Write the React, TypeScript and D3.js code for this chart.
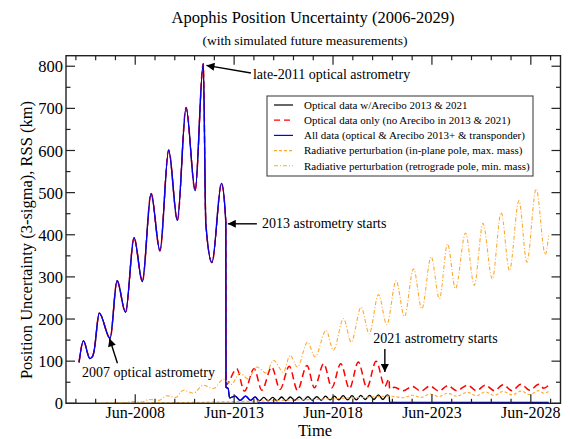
import React from "react";
import * as d3 from "d3";

// values (year as decimal, km)
const earlyTrack: [number, number][] = [
  [2005.66, 97], [2005.88, 148], [2006.21, 106], [2006.36, 113], [2006.43, 127],
  [2006.68, 214], [2007.23, 154], [2007.58, 291], [2008.01, 216], [2008.44, 393],
  [2008.86, 289], [2009.3, 498], [2009.75, 362], [2010.19, 601], [2010.63, 434],
  [2011.07, 702], [2011.53, 505], [2011.94, 806], [2012.07, 426], [2012.38, 334],
  [2012.86, 522], [2013.08, 430],
];

const radarStart: [number, number][] = [
  [2013.09, 38], [2013.2, 35], [2013.27, 13], [2013.55, 17], [2013.8, 7],
  [2014.08, 17], [2014.33, 7], [2014.56, 15],
];

const opticalArecibo: [number, number][] = [
  [2014.78, 6], [2015.0, 14], [2015.22, 6], [2015.45, 14], [2015.67, 6], [2015.9, 15],
  [2016.12, 6], [2016.34, 15], [2016.56, 7], [2016.79, 15], [2017.01, 7], [2017.23, 16],
  [2017.45, 7], [2017.68, 16], [2017.9, 7], [2018.12, 17], [2018.35, 8], [2018.57, 17],
  [2018.79, 8], [2019.01, 18], [2019.24, 8], [2019.46, 18], [2019.68, 8], [2019.9, 19],
  [2020.13, 9], [2020.35, 19], [2020.57, 9], [2020.79, 20], [2021.02, 9], [2021.24, 20],
  [2021.34, 17], [2021.36, 2], [2023.0, 2], [2025.0, 2], [2027.0, 2], [2029.4, 2],
];

const allDataTail: [number, number][] = [
  [2014.68, 8], [2014.72, 1], [2018.0, 1], [2022.0, 1], [2029.4, 1],
];

const opticalOnly: [number, number][] = [
  [2013.09, 44], [2013.63, 82], [2014.02, 29], [2014.51, 82], [2014.9, 31],
  [2015.4, 86], [2015.82, 33], [2016.29, 88], [2016.7, 31], [2017.18, 90],
  [2017.56, 37], [2018.03, 94], [2018.44, 37], [2018.89, 94], [2019.33, 35],
  [2019.78, 98], [2020.21, 37], [2020.68, 100], [2021.12, 40], [2021.33, 58],
  [2021.36, 34], [2021.6, 38], [2022.05, 30], [2022.5, 40], [2022.95, 29],
  [2023.4, 41], [2023.85, 29], [2024.3, 42], [2024.75, 30], [2025.3, 43],
  [2025.75, 30], [2026.2, 43], [2026.65, 30], [2027.1, 44], [2027.55, 30],
  [2028.0, 45], [2028.45, 31], [2028.9, 45], [2029.15, 36], [2029.4, 43],
];

const inPlanePole: [number, number][] = [
  [2006.8, 0], [2008.0, 0.5], [2009.5, 1], [2011.0, 2], [2012.5, 3], [2013.5, 4],
  [2014.5, 5], [2015.5, 6], [2016.5, 8], [2017.5, 9], [2018.5, 11], [2019.5, 13],
  [2020.5, 15], [2021.3, 17], [2021.6, 16], [2022.05, 13], [2022.5, 19], [2022.95, 14],
  [2023.4, 22], [2023.85, 16], [2024.3, 24], [2024.75, 17], [2025.3, 26], [2025.75, 18],
  [2026.2, 27], [2026.65, 19], [2027.1, 28], [2027.55, 20], [2028.0, 29], [2028.45, 21],
  [2028.9, 30], [2029.15, 24], [2029.4, 28],
];

const retrogradePole: [number, number][] = [
  [2006.5, 0], [2007.4, 1], [2007.9, 0.5], [2008.3, 4], [2008.8, 3], [2009.2, 9],
  [2009.7, 7], [2010.1, 18], [2010.55, 14], [2010.93, 31], [2011.44, 24], [2011.94, 43],
  [2012.45, 35], [2012.96, 57], [2013.35, 45], [2013.8, 72], [2014.2, 58], [2014.65, 86],
  [2015.12, 72], [2015.49, 102], [2015.99, 74], [2016.33, 114], [2016.7, 86],
  [2017.21, 145], [2017.59, 110], [2018.15, 173], [2018.52, 126], [2019.03, 201],
  [2019.42, 145], [2019.92, 228], [2020.33, 165], [2020.8, 258], [2021.22, 187],
  [2021.69, 291], [2022.11, 206], [2022.57, 319], [2022.99, 224], [2023.46, 348],
  [2023.88, 248], [2024.29, 378], [2024.69, 272], [2025.2, 404], [2025.64, 280],
  [2026.08, 427], [2026.55, 295], [2027.0, 453], [2027.42, 315], [2027.9, 481],
  [2028.3, 335], [2028.77, 509], [2029.23, 353], [2029.4, 398],
];

const xMajorYears = [2008.5, 2013.5, 2018.5, 2023.5, 2028.5];
const xTickLabels = ["Jun-2008", "Jun-2013", "Jun-2018", "Jun-2023", "Jun-2028"];
const yTickValues = [0, 100, 200, 300, 400, 500, 600, 700, 800];

const legendLabels = [
  "Optical data w/Arecibo 2013 & 2021",
  "Optical data only (no Arecibo in 2013 & 2021)",
  "All data (optical & Arecibo 2013+ & transponder)",
  "Radiative perturbation (in-plane pole, max. mass)",
  "Radiative perturbation (retrograde pole, min. mass)",
];

const annotations = [
  { text: "late-2011 optical astrometry", at: [2014.45, 770], from: [2014.35, 784], to: [2012.1, 802] },
  { text: "2013 astrometry starts", at: [2014.91, 417], from: [2014.65, 426], to: [2013.18, 426] },
  { text: "2007 optical astrometry", at: [2005.81, 63], from: [2007.6, 95], to: [2007.2, 154] },
  { text: "2021 astrometry starts", at: [2020.53, 143], from: [2021.12, 129], to: [2021.12, 74] },
];

const W = 570;
const H = 439;
const FONT = "'Liberation Serif', 'Times New Roman', serif";

const App = () => {
  const x = d3.scaleLinear().domain([2005, 2030]).range([66, 560.5]);
  const y = d3.scaleLinear().domain([0, 825]).range([403.3, 55.7]);

  const line = d3
    .line<[number, number]>()
    .x((d) => x(d[0]))
    .y((d) => y(d[1]))
    .curve(d3.curveMonotoneX);

  const minorYears = d3.range(2005.5, 2030, 1);
  const minorY = d3.range(50, 825, 100);

  const blackPath = line([...earlyTrack, ...radarStart, ...opticalArecibo]);
  const redPath = line([...earlyTrack, ...opticalOnly]);
  const bluePath = line([...earlyTrack, ...radarStart, ...allDataTail]);

  const legendStyles = [
    { color: "#000000", dash: "", width: 1.2 },
    { color: "#ff0000", dash: "6,4", width: 1.3 },
    { color: "#0000ff", dash: "", width: 1.2 },
    { color: "#ffa830", dash: "3,2", width: 1.1 },
    { color: "#ffa830", dash: "4,2,1,2", width: 1.1 },
  ];

  const [x0, x1] = x.range();
  const [yb, yt] = y.range();

  return (
    <svg
      width={W}
      height={H}
      style={{ position: "absolute", left: 0, top: 0, background: "#fff" }}
      fontFamily={FONT}
    >
      <defs>
        <marker
          id="arrow"
          viewBox="0 0 10 10"
          refX="10"
          refY="5"
          markerWidth="10"
          markerHeight="8"
          markerUnits="userSpaceOnUse"
          orient="auto"
        >
          <path d="M0,0 L10,5 L0,10 z" fill="#000" />
        </marker>
      </defs>

      <text x={313} y={23} textAnchor="middle" fontSize={16.5}>
        Apophis Position Uncertainty (2006-2029)
      </text>
      <text x={305} y={45} textAnchor="middle" fontSize={13.5}>
        (with simulated future measurements)
      </text>

      {/* data */}
      <path d={blackPath || ""} fill="none" stroke="#000" strokeWidth={1.3} />
      <path d={redPath || ""} fill="none" stroke="#ff0000" strokeWidth={1.5} strokeDasharray="7,4" />
      <path d={bluePath || ""} fill="none" stroke="#0000ff" strokeWidth={1.2} />
      <path d={line(inPlanePole) || ""} fill="none" stroke="#ffa830" strokeWidth={1.1} strokeDasharray="3,2" />
      <path
        d={line(retrogradePole) || ""}
        fill="none"
        stroke="#ffa830"
        strokeWidth={1.1}
        strokeDasharray="4,2,1,2"
      />

      {/* frame and ticks */}
      <rect x={x0} y={yt} width={x1 - x0} height={yb - yt} fill="none" stroke="#222" strokeWidth={1.4} />
      {minorYears.map((yr) => {
        const major = xMajorYears.includes(yr);
        const len = major ? 9 : 4.5;
        return (
          <g key={"xt" + yr} stroke="#222" strokeWidth={1.2}>
            <line x1={x(yr)} x2={x(yr)} y1={yb} y2={yb - len} />
            <line x1={x(yr)} x2={x(yr)} y1={yt} y2={yt + len} />
          </g>
        );
      })}
      {yTickValues.map((v) => (
        <g key={"yt" + v} stroke="#222" strokeWidth={1.2}>
          <line x1={x0} x2={x0 + 9} y1={y(v)} y2={y(v)} />
          <line x1={x1} x2={x1 - 9} y1={y(v)} y2={y(v)} />
        </g>
      ))}
      {minorY.map((v) => (
        <g key={"ym" + v} stroke="#222" strokeWidth={1.2}>
          <line x1={x0} x2={x0 + 4.5} y1={y(v)} y2={y(v)} />
          <line x1={x1} x2={x1 - 4.5} y1={y(v)} y2={y(v)} />
        </g>
      ))}
      {yTickValues.map((v) => (
        <text key={"yl" + v} x={x0 - 3} y={y(v) + 6} textAnchor="end" fontSize={16.5}>
          {v}
        </text>
      ))}
      {xMajorYears.map((yr, i) => (
        <text key={"xl" + yr} x={x(yr)} y={yb + 15} textAnchor="middle" fontSize={16}>
          {xTickLabels[i]}
        </text>
      ))}
      <text x={315} y={436} textAnchor="middle" fontSize={16.5}>
        Time
      </text>
      <text transform="translate(32,240) rotate(-90)" textAnchor="middle" fontSize={16.5}>
        Position Uncertainty (3-sigma), RSS (km)
      </text>

      {/* annotations */}
      {annotations.map((a) => (
        <g key={a.text}>
          <line
            x1={x(a.from[0])}
            y1={y(a.from[1])}
            x2={x(a.to[0])}
            y2={y(a.to[1])}
            stroke="#000"
            strokeWidth={1.4}
            markerEnd="url(#arrow)"
          />
          <text x={x(a.at[0])} y={y(a.at[1])} fontSize={14}>
            {a.text}
          </text>
        </g>
      ))}

      {/* legend */}
      <rect x={267} y={96} width={266} height={80} fill="#fff" stroke="#444" strokeWidth={1.1} />
      {legendLabels.map((label, i) => {
        const cy = 105 + i * 15.2;
        const s = legendStyles[i];
        return (
          <g key={label}>
            <line
              x1={274}
              x2={293}
              y1={cy}
              y2={cy}
              stroke={s.color}
              strokeWidth={s.width}
              strokeDasharray={s.dash}
            />
            <text x={304} y={cy + 3.8} fontSize={11}>
              {label}
            </text>
          </g>
        );
      })}
    </svg>
  );
};

export default App;
